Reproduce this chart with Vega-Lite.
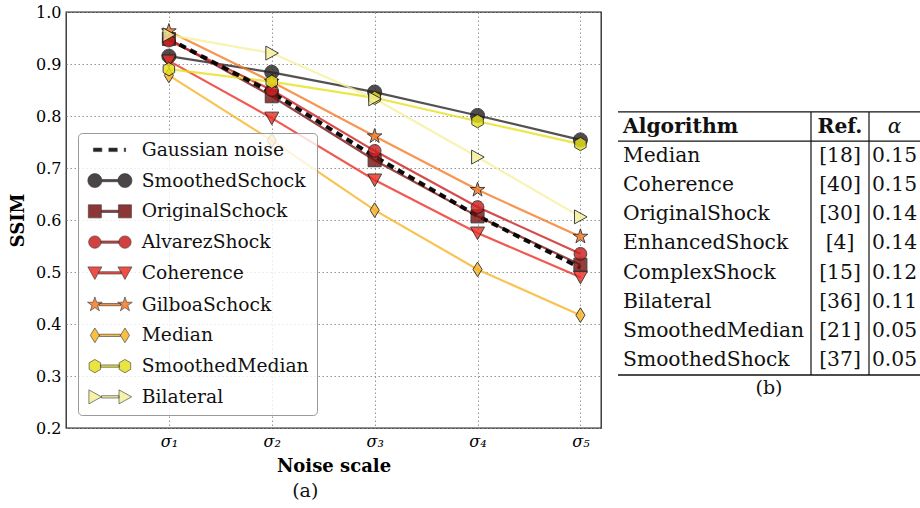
{
  "$schema": "https://vega.github.io/schema/vega-lite/v6.json",
  "padding": {"left": 8, "top": 3, "right": 0, "bottom": 0},
  "background": "white",
  "spacing": 15,
  "config": {"font": "DejaVu Serif"},
  "datasets": {
    "methods": [
      {"series": "SmoothedSchock", "s": 1, "ssim": 0.915}, {"series": "SmoothedSchock", "s": 2, "ssim": 0.884}, {"series": "SmoothedSchock", "s": 3, "ssim": 0.846}, {"series": "SmoothedSchock", "s": 4, "ssim": 0.801}, {"series": "SmoothedSchock", "s": 5, "ssim": 0.754},
      {"series": "OriginalSchock", "s": 1, "ssim": 0.948}, {"series": "OriginalSchock", "s": 2, "ssim": 0.838}, {"series": "OriginalSchock", "s": 3, "ssim": 0.715}, {"series": "OriginalSchock", "s": 4, "ssim": 0.607}, {"series": "OriginalSchock", "s": 5, "ssim": 0.514},
      {"series": "AlvarezShock", "s": 1, "ssim": 0.945}, {"series": "AlvarezShock", "s": 2, "ssim": 0.850}, {"series": "AlvarezShock", "s": 3, "ssim": 0.733}, {"series": "AlvarezShock", "s": 4, "ssim": 0.625}, {"series": "AlvarezShock", "s": 5, "ssim": 0.535},
      {"series": "Coherence", "s": 1, "ssim": 0.906}, {"series": "Coherence", "s": 2, "ssim": 0.796}, {"series": "Coherence", "s": 3, "ssim": 0.677}, {"series": "Coherence", "s": 4, "ssim": 0.575}, {"series": "Coherence", "s": 5, "ssim": 0.490},
      {"series": "GilboaSchock", "s": 1, "ssim": 0.963}, {"series": "GilboaSchock", "s": 2, "ssim": 0.866}, {"series": "GilboaSchock", "s": 3, "ssim": 0.761}, {"series": "GilboaSchock", "s": 4, "ssim": 0.658}, {"series": "GilboaSchock", "s": 5, "ssim": 0.568},
      {"series": "Median", "s": 1, "ssim": 0.878}, {"series": "Median", "s": 2, "ssim": 0.753}, {"series": "Median", "s": 3, "ssim": 0.619}, {"series": "Median", "s": 4, "ssim": 0.505}, {"series": "Median", "s": 5, "ssim": 0.417},
      {"series": "SmoothedMedian", "s": 1, "ssim": 0.890}, {"series": "SmoothedMedian", "s": 2, "ssim": 0.866}, {"series": "SmoothedMedian", "s": 3, "ssim": 0.835}, {"series": "SmoothedMedian", "s": 4, "ssim": 0.790}, {"series": "SmoothedMedian", "s": 5, "ssim": 0.746},
      {"series": "Bilateral", "s": 1, "ssim": 0.956}, {"series": "Bilateral", "s": 2, "ssim": 0.921}, {"series": "Bilateral", "s": 3, "ssim": 0.833}, {"series": "Bilateral", "s": 4, "ssim": 0.721}, {"series": "Bilateral", "s": 5, "ssim": 0.606}
    ],
    "gauss": [
      {"series": "Gaussian noise", "s": 1, "ssim": 0.948}, {"series": "Gaussian noise", "s": 2, "ssim": 0.845}, {"series": "Gaussian noise", "s": 3, "ssim": 0.722}, {"series": "Gaussian noise", "s": 4, "ssim": 0.608}, {"series": "Gaussian noise", "s": 5, "ssim": 0.508}
    ],
    "table": [
      {"r": 0, "cx": 0, "col": 0, "part": "head", "t": "Algorithm"},
      {"r": 0, "cx": 1.5, "col": 1, "part": "head", "t": "Ref."},
      {"r": 0, "cx": 2.5, "col": 2, "part": "head", "t": "α"},
      {"r": 1, "cx": 0, "col": 0, "part": "body", "t": "Median"}, {"r": 1, "cx": 1.5, "col": 1, "part": "body", "t": "[18]"}, {"r": 1, "cx": 2.5, "col": 2, "part": "body", "t": "0.15"},
      {"r": 2, "cx": 0, "col": 0, "part": "body", "t": "Coherence"}, {"r": 2, "cx": 1.5, "col": 1, "part": "body", "t": "[40]"}, {"r": 2, "cx": 2.5, "col": 2, "part": "body", "t": "0.15"},
      {"r": 3, "cx": 0, "col": 0, "part": "body", "t": "OriginalShock"}, {"r": 3, "cx": 1.5, "col": 1, "part": "body", "t": "[30]"}, {"r": 3, "cx": 2.5, "col": 2, "part": "body", "t": "0.14"},
      {"r": 4, "cx": 0, "col": 0, "part": "body", "t": "EnhancedShock"}, {"r": 4, "cx": 1.5, "col": 1, "part": "body", "t": "[4]"}, {"r": 4, "cx": 2.5, "col": 2, "part": "body", "t": "0.14"},
      {"r": 5, "cx": 0, "col": 0, "part": "body", "t": "ComplexShock"}, {"r": 5, "cx": 1.5, "col": 1, "part": "body", "t": "[15]"}, {"r": 5, "cx": 2.5, "col": 2, "part": "body", "t": "0.12"},
      {"r": 6, "cx": 0, "col": 0, "part": "body", "t": "Bilateral"}, {"r": 6, "cx": 1.5, "col": 1, "part": "body", "t": "[36]"}, {"r": 6, "cx": 2.5, "col": 2, "part": "body", "t": "0.11"},
      {"r": 7, "cx": 0, "col": 0, "part": "body", "t": "SmoothedMedian"}, {"r": 7, "cx": 1.5, "col": 1, "part": "body", "t": "[21]"}, {"r": 7, "cx": 2.5, "col": 2, "part": "body", "t": "0.05"},
      {"r": 8, "cx": 0, "col": 0, "part": "body", "t": "SmoothedShock"}, {"r": 8, "cx": 1.5, "col": 1, "part": "body", "t": "[37]"}, {"r": 8, "cx": 2.5, "col": 2, "part": "body", "t": "0.05"}
    ],
    "hrules": [{"b": -0.5}, {"b": 0.5}, {"b": 8.5}],
    "vrules": [{"c": 1}, {"c": 2}]
  },
  "hconcat": [
    {
      "width": 535,
      "height": 416,
      "view": {"stroke": "#222", "strokeWidth": 1.3},
      "title": {"text": "(a)", "orient": "bottom", "anchor": "middle", "frame": "bounds", "font": "DejaVu Serif", "fontSize": 19, "fontWeight": "normal", "color": "#111", "offset": 7},
      "encoding": {
        "x": {"field": "s", "type": "quantitative", "scale": {"domain": [0, 5.2], "nice": false, "zero": false},
          "axis": {"title": "Noise scale", "titleFont": "DejaVu Serif", "titleFontSize": 18, "titleFontWeight": "bold", "titleColor": "#000", "titlePadding": 8,
            "values": [1, 2, 3, 4, 5], "labelExpr": "'σ' + ['₀','₁','₂','₃','₄','₅'][datum.value]", "labelFont": "DejaVu Serif", "labelFontStyle": "italic", "labelFontSize": 16, "labelColor": "#000", "labelPadding": 5,
            "ticks": false, "domain": false, "grid": true, "gridColor": "#8a8a8a", "gridDash": [1.5, 2.5], "gridWidth": 0.9}},
        "y": {"field": "ssim", "type": "quantitative", "scale": {"domain": [0.2, 1.0], "nice": false, "zero": false},
          "axis": {"title": "SSIM", "titleFont": "DejaVu Serif", "titleFontSize": 18, "titleFontWeight": "bold", "titleColor": "#000", "titlePadding": 8,
            "values": [0.2, 0.3, 0.4, 0.5, 0.6, 0.7, 0.8, 0.9, 1.0], "format": ".1f", "labelFont": "DejaVu Serif", "labelFontSize": 16, "labelColor": "#000", "labelPadding": 5, "labelFlush": false,
            "ticks": false, "domain": false, "grid": true, "gridColor": "#8a8a8a", "gridDash": [1.5, 2.5], "gridWidth": 0.9}}
      },
      "layer": [
        {
          "data": {"name": "methods"},
          "mark": {"type": "line", "strokeWidth": 2.2, "opacity": 0.8},
          "encoding": {
            "stroke": {"field": "series", "type": "nominal", "legend": null,
              "scale": {"domain": ["SmoothedSchock", "OriginalSchock", "AlvarezShock", "Coherence", "GilboaSchock", "Median", "SmoothedMedian", "Bilateral", "Gaussian noise"],
                        "range": ["#2b2626", "#7a1414", "#cc1f1f", "#ec3025", "#f57a25", "#f8b425", "#e6e01e", "#f5f09c", "#000000"]}}
          }
        },
        {
          "data": {"name": "gauss"},
          "mark": {"type": "line", "strokeWidth": 4, "strokeDash": [7, 5], "opacity": 0.95},
          "encoding": {
            "stroke": {"field": "series", "type": "nominal", "legend": null}
          }
        },
        {
          "data": {"name": "methods"},
          "mark": {"type": "point", "filled": true, "size": 196, "opacity": 0.82, "stroke": "#1a1a1a", "strokeWidth": 1},
          "encoding": {
            "fill": {"field": "series", "type": "nominal",
              "scale": {"domain": ["Gaussian noise", "SmoothedSchock", "OriginalSchock", "AlvarezShock", "Coherence", "GilboaSchock", "Median", "SmoothedMedian", "Bilateral"],
                        "range": ["#000000", "#2b2626", "#7a1414", "#cc1f1f", "#ec3025", "#f57a25", "#f8b425", "#e6e01e", "#f5f09c"]},
              "legend": {"title": null, "orient": "none", "legendX": 12, "legendY": 121, "padding": 7.5, "strokeColor": "#9a9a9a", "fillColor": "rgba(255,255,255,0.8)", "cornerRadius": 4,
                "labelFont": "DejaVu Serif", "labelFontSize": 18.7, "labelColor": "#111", "labelOffset": 37.5, "rowPadding": 10.75, "symbolSize": 196, "symbolStrokeWidth": 1, "symbolStrokeColor": "#1a1a1a", "symbolOpacity": 0.85, "labelLimit": 400,
                "encode": {"symbols": {"update": {
                  "shape": {"signal": "datum.value === 'Gaussian noise' ? 'M-0.2,-0.25H1V0.25H-0.2Z M2,-0.25H3.2V0.25H2Z M4.2,-0.25H4.4V0.25H4.2Z' : datum.value === 'SmoothedSchock' ? 'M-1,0A1,1,0,1,1,1,0A1,1,0,1,1,-1,0Z M1,-0.16H3.3V0.16H1Z M3.3,0A1,1,0,1,1,5.3,0A1,1,0,1,1,3.3,0Z' : datum.value === 'OriginalSchock' ? 'M-0.93,-0.93H0.93V0.93H-0.93Z M0.93,-0.16H3.37V0.16H0.93Z M3.37,-0.93H5.23V0.93H3.37Z' : datum.value === 'AlvarezShock' ? 'M-0.88,0A0.88,0.88,0,1,1,0.88,0A0.88,0.88,0,1,1,-0.88,0Z M0.88,-0.16H3.42V0.16H0.88Z M3.42,0A0.88,0.88,0,1,1,5.18,0A0.88,0.88,0,1,1,3.42,0Z' : datum.value === 'Coherence' ? 'M-1,-0.85H1L0,0.95Z M0.52,-0.16H3.78V0.16H0.52Z M3.3,-0.85H5.3L4.3,0.95Z' : datum.value === 'GilboaSchock' ? 'M0,-1.1L0.247,-0.34L1.046,-0.34L0.4,0.13L0.647,0.89L0,0.42L-0.647,0.89L-0.4,0.13L-1.046,-0.34L-0.247,-0.34Z M0.58,-0.16H3.72V0.16H0.58Z M4.3,-1.1L4.547,-0.34L5.346,-0.34L4.7,0.13L4.947,0.89L4.3,0.42L3.653,0.89L3.9,0.13L3.254,-0.34L4.053,-0.34Z' : datum.value === 'Median' ? 'M0,-1.05L0.65,0L0,1.05L-0.65,0Z M0.65,-0.16H3.65V0.16H0.65Z M4.3,-1.05L4.95,0L4.3,1.05L3.65,0Z' : datum.value === 'SmoothedMedian' ? 'M0,-0.95L0.82,-0.475V0.475L0,0.95L-0.82,0.475V-0.475Z M0.82,-0.16H3.48V0.16H0.82Z M4.3,-0.95L5.12,-0.475V0.475L4.3,0.95L3.48,0.475V-0.475Z' : 'M-0.85,-1L0.95,0L-0.85,1Z M0.95,-0.16H3.45V0.16H0.95Z M3.45,-1L5.25,0L3.45,1Z'"},
                  "stroke": {"value": "#1a1a1a"},
                  "strokeOpacity": {"value": 0.7},
                  "strokeWidth": {"value": 0.9},
                  "size": {"value": 196}
                }}}
              }},
            "shape": {"field": "series", "type": "nominal", "legend": null,
              "scale": {"domain": ["SmoothedSchock", "OriginalSchock", "AlvarezShock", "Coherence", "GilboaSchock", "Median", "SmoothedMedian", "Bilateral"],
                "range": ["M-1,0A1,1,0,1,1,1,0A1,1,0,1,1,-1,0Z", "M-0.93,-0.93H0.93V0.93H-0.93Z", "M-0.9,0A0.9,0.9,0,1,1,0.9,0A0.9,0.9,0,1,1,-0.9,0Z", "M-1,-0.85H1L0,0.95Z", "M0,-1.1L0.247,-0.34L1.046,-0.34L0.4,0.13L0.647,0.89L0,0.42L-0.647,0.89L-0.4,0.13L-1.046,-0.34L-0.247,-0.34Z", "M0,-1.05L0.65,0L0,1.05L-0.65,0Z", "M0,-0.95L0.82,-0.475V0.475L0,0.95L-0.82,0.475V-0.475Z", "M-0.85,-1L0.95,0L-0.85,1Z"]}}
          }
        }
      ]
    },
    {
      "width": 302,
      "height": 363,
      "view": {"stroke": null},
      "title": {"text": "(b)", "orient": "bottom", "anchor": "middle", "font": "DejaVu Serif", "fontSize": 19, "fontWeight": "normal", "color": "#111", "offset": 3},
      "layer": [
        {
          "data": {"name": "hrules"},
          "mark": {"type": "rule", "strokeWidth": 1.3, "color": "#111"},
          "encoding": {
            "y": {"field": "b", "type": "quantitative", "scale": {"domain": [-3.92, 8.5], "reverse": true, "nice": false, "zero": false}, "axis": null},
            "x": {"datum": 0, "type": "quantitative", "scale": {"domain": [0, 1, 2, 3], "range": [0, 193, 251, 302], "nice": false, "zero": false}, "axis": null},
            "x2": {"datum": 3}
          }
        },
        {
          "data": {"name": "vrules"},
          "mark": {"type": "rule", "strokeWidth": 1.2, "color": "#111"},
          "encoding": {
            "x": {"field": "c", "type": "quantitative", "scale": {"domain": [0, 1, 2, 3], "range": [0, 193, 251, 302], "nice": false, "zero": false}, "axis": null},
            "y": {"datum": -0.5, "type": "quantitative", "scale": {"domain": [-3.92, 8.5], "reverse": true, "nice": false, "zero": false}, "axis": null},
            "y2": {"datum": 8.5}
          }
        },
        {
          "data": {"name": "table"},
          "transform": [{"filter": "datum.part === 'body' && datum.col === 0"}],
          "mark": {"type": "text", "align": "left", "baseline": "middle", "dx": 5, "font": "DejaVu Serif", "fontSize": 20.3, "color": "#111"},
          "encoding": {
            "x": {"field": "cx", "type": "quantitative", "scale": {"domain": [0, 1, 2, 3], "range": [0, 193, 251, 302], "nice": false, "zero": false}, "axis": null},
            "y": {"field": "r", "type": "quantitative", "scale": {"domain": [-3.92, 8.5], "reverse": true, "nice": false, "zero": false}, "axis": null},
            "text": {"field": "t"}
          }
        },
        {
          "data": {"name": "table"},
          "transform": [{"filter": "datum.part === 'body' && datum.col > 0"}],
          "mark": {"type": "text", "align": "center", "baseline": "middle", "font": "DejaVu Serif", "fontSize": 20.3, "color": "#111"},
          "encoding": {
            "x": {"field": "cx", "type": "quantitative", "scale": {"domain": [0, 1, 2, 3], "range": [0, 193, 251, 302], "nice": false, "zero": false}, "axis": null},
            "y": {"field": "r", "type": "quantitative", "scale": {"domain": [-3.92, 8.5], "reverse": true, "nice": false, "zero": false}, "axis": null},
            "text": {"field": "t"}
          }
        },
        {
          "data": {"name": "table"},
          "transform": [{"filter": "datum.part === 'head' && datum.col === 0"}],
          "mark": {"type": "text", "align": "left", "baseline": "middle", "dx": 5, "font": "DejaVu Serif", "fontSize": 20.3, "fontWeight": "bold", "color": "#111"},
          "encoding": {
            "x": {"field": "cx", "type": "quantitative", "scale": {"domain": [0, 1, 2, 3], "range": [0, 193, 251, 302], "nice": false, "zero": false}, "axis": null},
            "y": {"field": "r", "type": "quantitative", "scale": {"domain": [-3.92, 8.5], "reverse": true, "nice": false, "zero": false}, "axis": null},
            "text": {"field": "t"}
          }
        },
        {
          "data": {"name": "table"},
          "transform": [{"filter": "datum.part === 'head' && datum.col === 1"}],
          "mark": {"type": "text", "align": "center", "baseline": "middle", "font": "DejaVu Serif", "fontSize": 20.3, "fontWeight": "bold", "color": "#111"},
          "encoding": {
            "x": {"field": "cx", "type": "quantitative", "scale": {"domain": [0, 1, 2, 3], "range": [0, 193, 251, 302], "nice": false, "zero": false}, "axis": null},
            "y": {"field": "r", "type": "quantitative", "scale": {"domain": [-3.92, 8.5], "reverse": true, "nice": false, "zero": false}, "axis": null},
            "text": {"field": "t"}
          }
        },
        {
          "data": {"name": "table"},
          "transform": [{"filter": "datum.part === 'head' && datum.col === 2"}],
          "mark": {"type": "text", "align": "center", "baseline": "middle", "font": "DejaVu Serif", "fontSize": 20.3, "fontStyle": "italic", "color": "#111"},
          "encoding": {
            "x": {"field": "cx", "type": "quantitative", "scale": {"domain": [0, 1, 2, 3], "range": [0, 193, 251, 302], "nice": false, "zero": false}, "axis": null},
            "y": {"field": "r", "type": "quantitative", "scale": {"domain": [-3.92, 8.5], "reverse": true, "nice": false, "zero": false}, "axis": null},
            "text": {"field": "t"}
          }
        }
      ]
    }
  ]
}
